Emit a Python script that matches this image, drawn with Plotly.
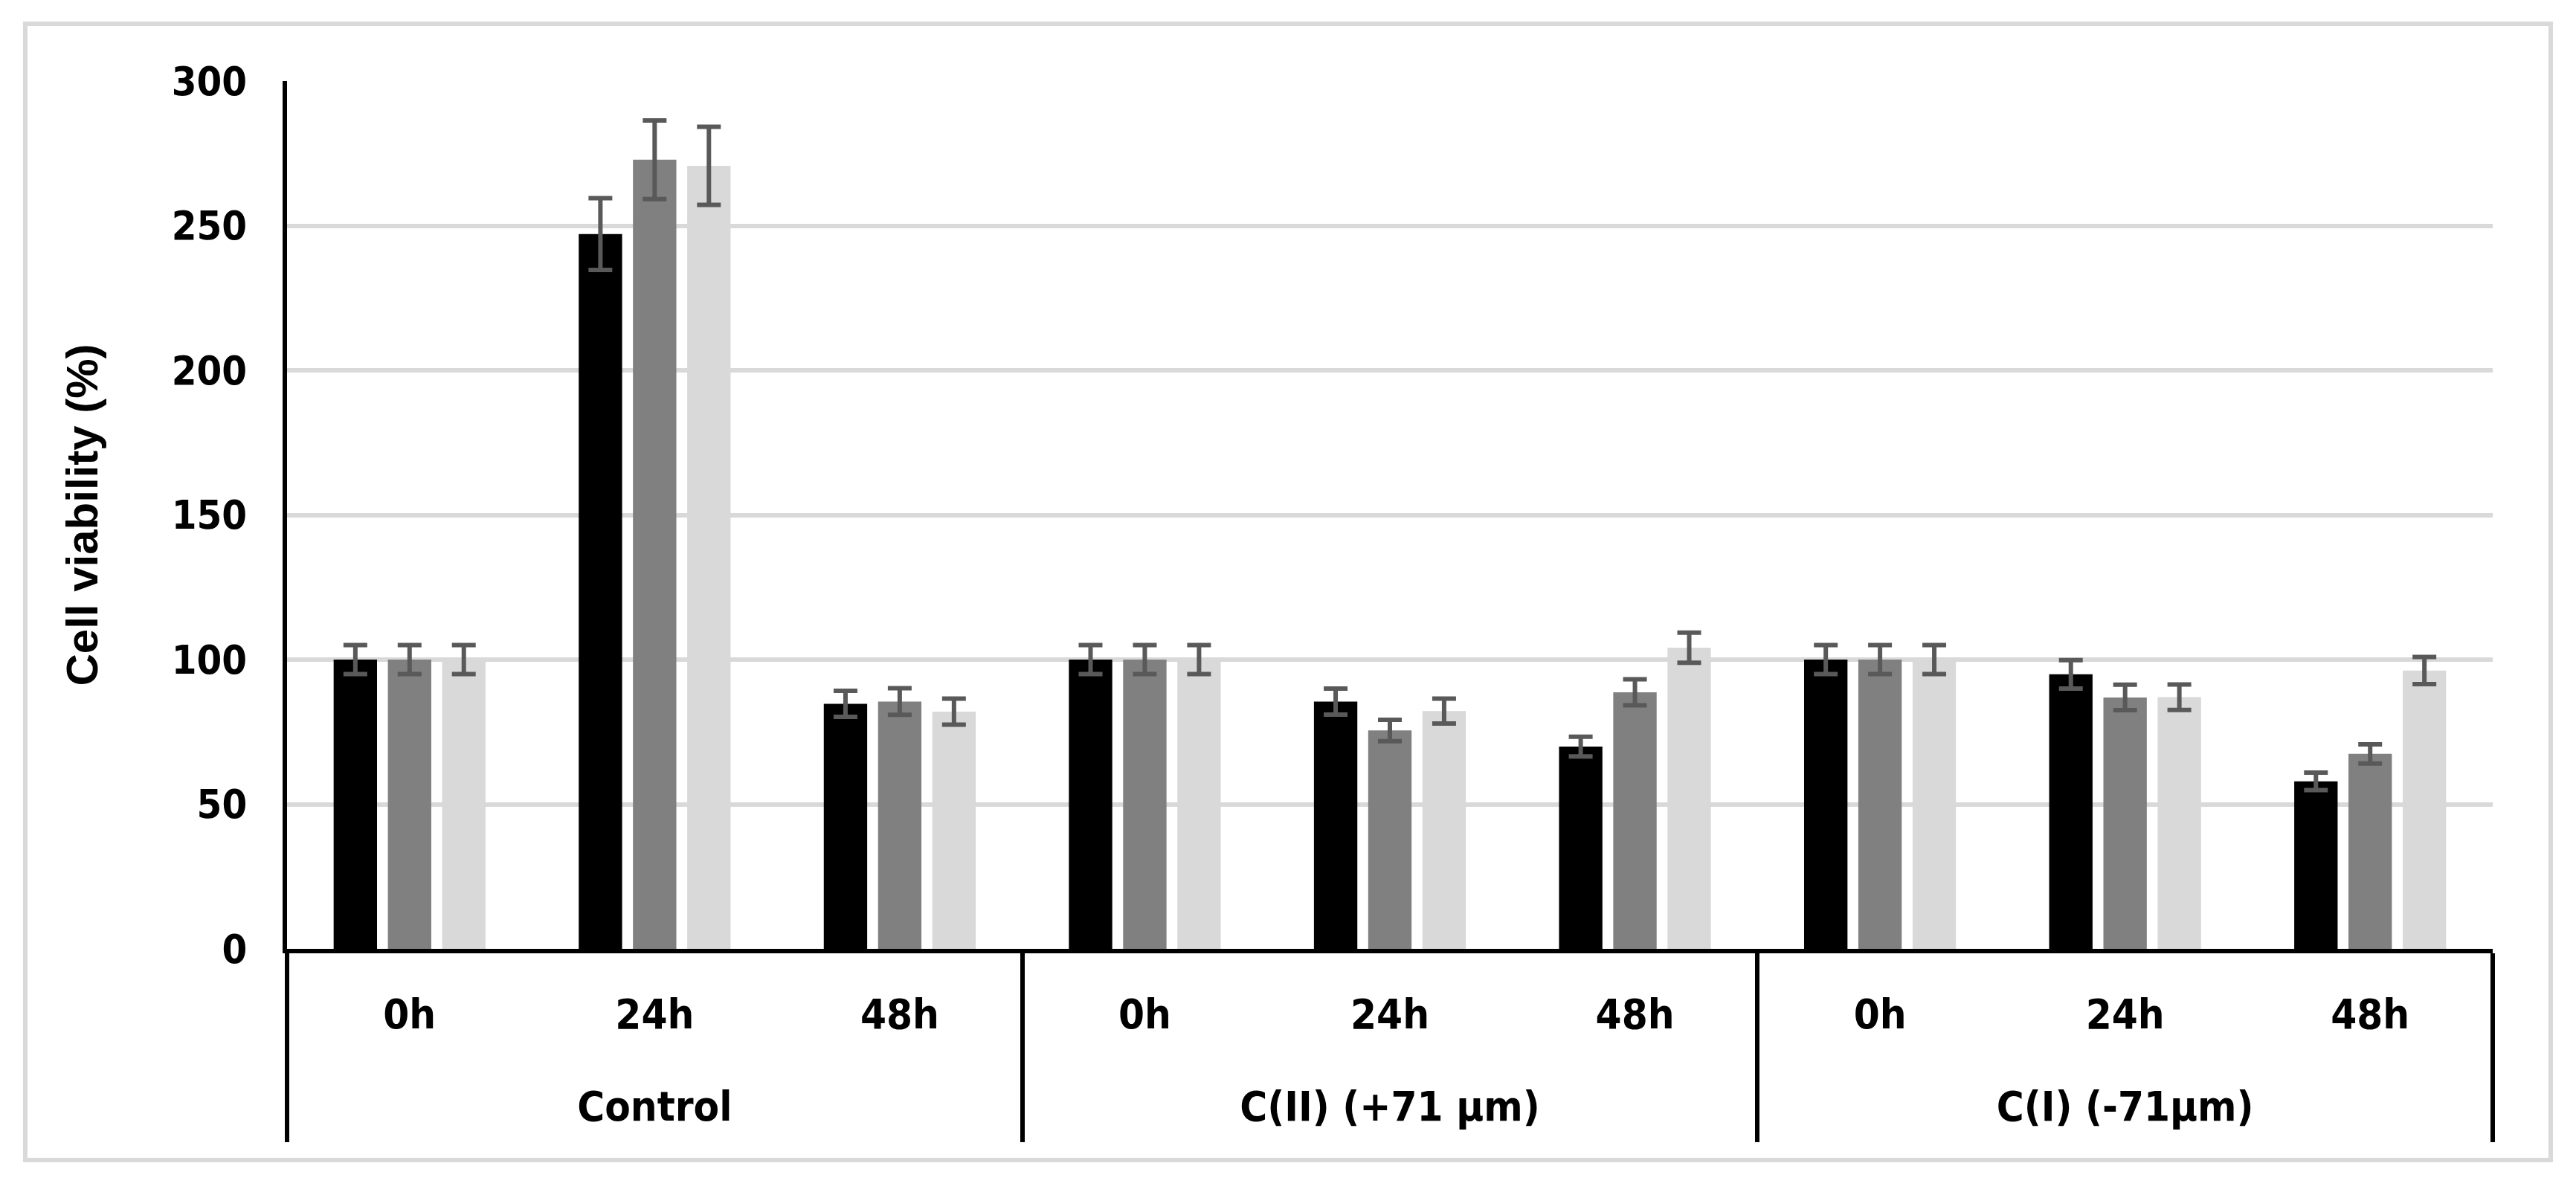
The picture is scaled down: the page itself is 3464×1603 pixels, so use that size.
import plotly.graph_objects as go

group_names = ["Control", "C(II) (+71 µm)", "C(I) (-71µm)"]
time_names = ["0h", "24h", "48h"]

series_names = ["Series 1", "Series 2", "Series 3"]
series_colors = ["#000000", "#808080", "#d9d9d9"]

s1_values = [100, 247.1, 84.7, 100, 85.5, 69.9, 100, 94.9, 57.9]
s1_errors = [5, 12.4, 4.5, 5, 4.5, 3.4, 5, 4.9, 3.0]
s2_values = [100, 272.8, 85.5, 100, 75.5, 88.7, 100, 86.9, 67.4]
s2_errors = [5, 13.6, 4.6, 5, 3.7, 4.5, 5, 4.4, 3.3]
s3_values = [100, 270.7, 82.0, 100, 82.2, 104.1, 100, 87.0, 96.2]
s3_errors = [5, 13.5, 4.5, 5, 4.3, 5.2, 5, 4.4, 4.7]

y_ticks = [0, 50, 100, 150, 200, 250, 300]

FONT = "Liberation Sans Narrow, DejaVu Sans Condensed, Arial Narrow, sans-serif"
LABEL_PX = 56


def big(t):
    return f'<span style="font-size:{LABEL_PX}px">{t}</span>'


# invisible tall glyph so the group dividers reach further down
PAD = '<span style="font-size:110px;color:white">.</span>'

groups = []
times = []
for g in group_names:
    for t in time_names:
        groups.append("<br>" + PAD + big(g) + PAD)
        times.append(big(t))

fig = go.Figure()
for name, color, vals, errs in zip(series_names, series_colors,
                                   [s1_values, s2_values, s3_values],
                                   [s1_errors, s2_errors, s3_errors]):
    fig.add_trace(go.Bar(
        name=name,
        x=[groups, times],
        y=vals,
        marker=dict(color=color, line=dict(width=0)),
        error_y=dict(type="data", array=errs, visible=True,
                     color="#595959", thickness=6, width=16),
    ))

fig.update_layout(
    width=3448, height=1587,
    margin=dict(l=378, r=104, t=101, b=319),
    paper_bgcolor="white", plot_bgcolor="white",
    barmode="group", bargap=0.336, bargroupgap=0.2,
    showlegend=False,
    font=dict(family=FONT, size=54, color="black"),
)

fig.update_yaxes(
    range=[0, 300], tickvals=y_ticks,
    showgrid=True, gridcolor="#d9d9d9", gridwidth=6,
    showline=True, linecolor="black", linewidth=6,
    zeroline=False, ticks="",
    tickfont=dict(family=FONT, size=54, weight="bold", color="black"),
    ticklabelstandoff=37,
    title=dict(text="Cell viability (%)",
               font=dict(family="Liberation Sans, Arial, sans-serif", size=60,
                         weight="bold", color="black"),
               standoff=82),
)

fig.update_xaxes(
    type="multicategory",
    showgrid=False,
    showline=True, linecolor="black", linewidth=6,
    showdividers=True, dividercolor="black", dividerwidth=6,
    ticks="",
    ticklabelstandoff=25,
    tickfont=dict(family=FONT, size=63, weight="bold", color="black"),
)

fig.add_shape(type="rect", xref="paper", yref="paper",
              x0=-0.1187, x1=1.0263, y0=-0.2434, y1=1.066,
              line=dict(color="#d9d9d9", width=6), fillcolor="rgba(0,0,0,0)",
              layer="below")

fig.write_html("out.html")
